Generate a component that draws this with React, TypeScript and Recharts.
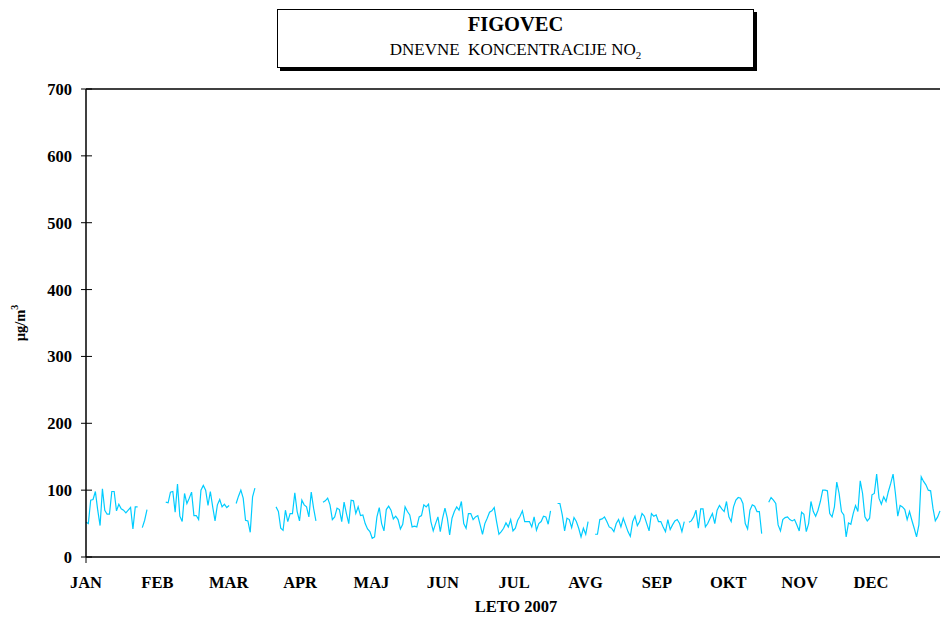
import { Line, LineChart, ReferenceLine, XAxis, YAxis } from "recharts";

// month names on the x axis
const months = ["JAN", "FEB", "MAR", "APR", "MAJ", "JUN", "JUL", "AVG", "SEP", "OKT", "NOV", "DEC"];
const yTicks = [0, 100, 200, 300, 400, 500, 600, 700];

// daily NO2 (µg/m3), null = no measurement
const jan = [52, 50, 85, 86, 98, 70, 47, 102, 70, 64, 64, 98, 98, 69, 79, 72, 70, 66, 70, 74, 42, 75, 75, null, 44, 55, 71, null, null, null, null];
const feb = [null, null, null, 82, 81, 97, 98, 67, 109, 61, 53, 95, 80, 88, 97, 62, 62, 56, 100, 107, 100, 77, 98, 75, 54, 78, 86, 75];
const mar = [79, 74, 77, null, null, 80, 91, 100, 88, 55, 54, 37, 90, 103, null, null, null, null, null, null, null, null, 75, 68, 43, 40, 70, 53, 65, 65, 96];
const apr = [68, 54, 85, 78, 75, 60, 97, 73, 54, null, null, 82, 84, 88, 78, 56, 60, 73, 71, 53, 82, 65, 50, 85, 84, 65, 75, 62, 63, 50];
const maj = [42, 38, 28, 30, 60, 74, 50, 39, 71, 76, 70, 57, 61, 56, 42, 49, 75, 68, 63, 45, 46, 45, 60, 62, 78, 75, 79, 53, 39, 50, 60];
const jun = [38, 58, 73, 58, 33, 58, 68, 75, 70, 83, 50, 43, 65, 65, 56, 60, 62, 48, 34, 50, 58, 67, 69, 74, 53, 34, 38, 43, 51, 45];
const jul = [56, 39, 43, 55, 61, 69, 53, 53, 53, 45, 60, 40, 50, 53, 61, 60, 49, 69, null, null, 80, 80, 63, 39, 58, 56, 44, 59, 53, 43, 30];
const avg = [43, 34, 53, null, null, 34, 34, 56, 57, 60, 53, 45, 43, 38, 50, 56, 45, 58, 48, 38, 31, 53, 61, 47, 53, 65, 61, 50, 39, 65, 61];
const sep = [63, 53, 53, 45, 38, 56, 41, 48, 54, 56, 50, 38, 53, null, 52, 54, 60, 70, 43, 72, 72, 45, 50, 58, 65, 50, 70, 77, 72, 68];
const okt = [83, 60, 53, 75, 85, 89, 88, 80, 50, 42, 70, 78, 76, 68, 68, 35, null, null, 82, 89, 85, 80, 48, 39, 56, 59, 60, 56, 54, 56, 48];
const nov = [39, 67, 64, 38, 50, 83, 68, 61, 70, 83, 100, 100, 99, 65, 60, 75, 112, 95, 68, 63, 30, 51, 49, 65, 77, 68, 114, 95, 60, 54];
const dec = [58, 93, 95, 124, 88, 79, 90, 83, 98, 110, 124, 95, 61, 77, 75, 71, 56, 68, 55, 43, 30, 48, 120, 113, 108, 100, 99, 73, 54, 60, 69];

const no2 = [...jan, ...feb, ...mar, ...apr, ...maj, ...jun, ...jul, ...avg, ...sep, ...okt, ...nov, ...dec];
const chartData = no2.map((value, day) => ({ day, value }));
const lastDay = no2.length - 1;
const monthTicks = months.map((_, i) => (i * (lastDay + 1)) / 12);

const FONT = '"Liberation Serif", "Times New Roman", serif';

function MonthTick(props: any) {
  const { x, y, index } = props;
  return (
    <g>
      {index === 0 && <line x1={x} y1={y - 6} x2={x} y2={y} stroke="#000" />}
      <text x={x} y={y + 25} textAnchor="middle" fontFamily={FONT} fontWeight="bold" fontSize={16.5} fill="#000">
        {months[index]}
      </text>
    </g>
  );
}

function ValueTick(props: any) {
  const { x, y, payload } = props;
  const axisX = x + 14;
  return (
    <g>
      <line x1={axisX - 5} y1={y} x2={axisX + 6} y2={y} stroke="#000" />
      <text x={x} y={y} dy="0.36em" textAnchor="end" fontFamily={FONT} fontWeight="bold" fontSize={16.5} fill="#000">
        {payload.value}
      </text>
    </g>
  );
}

function YTitle(props: any) {
  const vb = props.viewBox;
  const cx = vb.x + 20;
  const cy = vb.y + vb.height / 2;
  return (
    <text
      x={cx}
      y={cy}
      transform={`rotate(-90, ${cx}, ${cy})`}
      textAnchor="middle"
      dominantBaseline="central"
      fontFamily={FONT}
      fontWeight="bold"
      fontSize={14.5}
      fill="#000"
    >
      µg/m
      <tspan dy={-6} fontSize={10}>
        3
      </tspan>
    </text>
  );
}

function XTitle(props: any) {
  const vb = props.viewBox;
  return (
    <text x={vb.x + vb.width / 2 + 3} y={vb.y + 55} textAnchor="middle" fontFamily={FONT} fontWeight="bold" fontSize={16.5} fill="#000">
      LETO 2007
    </text>
  );
}

export default function App() {
  return (
    <div style={{ position: "absolute", left: 0, top: 0, width: 941, height: 618, background: "#fff" }}>
      <div
        style={{
          position: "absolute",
          left: 277,
          top: 9,
          width: 477,
          height: 59,
          boxSizing: "border-box",
          border: "1px solid #000",
          boxShadow: "3px 3px 0 #000",
          background: "#fff",
          fontFamily: FONT,
          color: "#000",
          textAlign: "center",
          zIndex: 1,
        }}
      >
        <div style={{ position: "absolute", left: 0, right: 0, top: 4, fontSize: 20.5, lineHeight: 1, fontWeight: "bold" }}>
          FIGOVEC
        </div>
        <div style={{ position: "absolute", left: 0, right: 0, top: 31, fontSize: 17, lineHeight: 1, whiteSpace: "pre" }}>
          {"DNEVNE  KONCENTRACIJE NO"}
          <span style={{ fontSize: 11, position: "relative", top: 4 }}>2</span>
        </div>
      </div>
      <LineChart width={941} height={618} data={chartData} margin={{ top: 89, right: 1, bottom: 0, left: 0 }}>
        <XAxis
          dataKey="day"
          type="number"
          domain={[0, lastDay]}
          ticks={monthTicks}
          interval={0}
          height={61}
          tickSize={6}
          tickMargin={0}
          tickLine={false}
          axisLine={{ stroke: "#000", strokeWidth: 1.5 }}
          tick={<MonthTick />}
          label={(p: any) => <XTitle {...p} />}
        />
        <YAxis
          type="number"
          domain={[0, 700]}
          ticks={yTicks}
          interval={0}
          width={86}
          tickSize={5}
          tickMargin={9}
          tickLine={false}
          axisLine={{ stroke: "#000", strokeWidth: 1.5 }}
          tick={<ValueTick />}
          label={(p: any) => <YTitle {...p} />}
        />
        <ReferenceLine y={700} stroke="#000" strokeWidth={1.5} />
        <Line
          type="linear"
          dataKey="value"
          stroke="#00CCFF"
          strokeWidth={1.2}
          dot={false}
          connectNulls={false}
          isAnimationActive={false}
        />
      </LineChart>
    </div>
  );
}
